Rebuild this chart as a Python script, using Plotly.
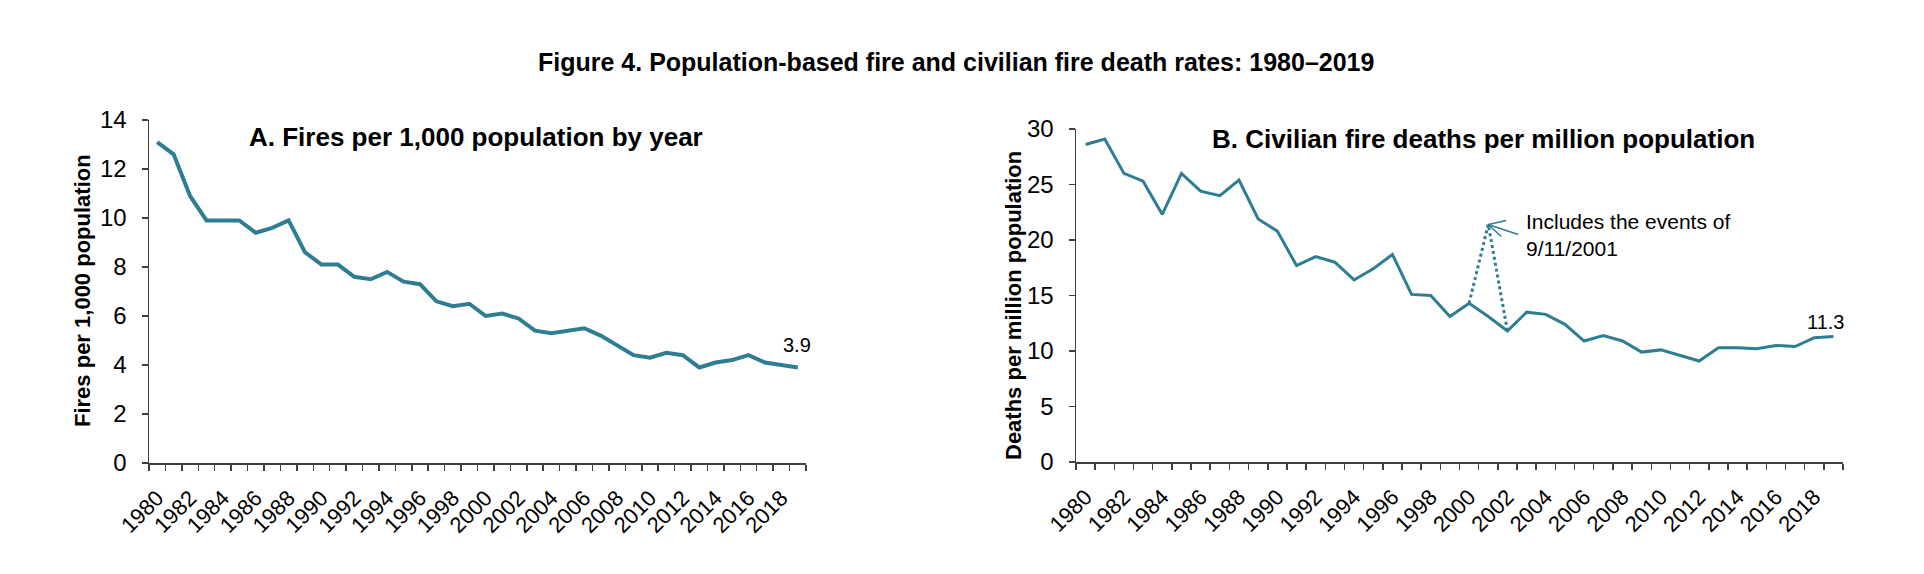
import plotly.graph_objects as go

years = list(range(1980, 2020))
fires_per_1000 = [13.1, 12.6, 10.9, 9.9, 9.9, 9.9, 9.4, 9.6, 9.9, 8.6,
                  8.1, 8.1, 7.6, 7.5, 7.8, 7.4, 7.3, 6.6, 6.4, 6.5,
                  6.0, 6.1, 5.9, 5.4, 5.3, 5.4, 5.5, 5.2, 4.8, 4.4,
                  4.3, 4.5, 4.4, 3.9, 4.1, 4.2, 4.4, 4.1, 4.0, 3.9]
deaths_per_million = [28.6, 29.1, 26.0, 25.3, 22.3, 26.0, 24.4, 24.0, 25.4, 21.9,
                      20.8, 17.7, 18.5, 18.0, 16.4, 17.4, 18.7, 15.1, 15.0, 13.1,
                      14.3, 13.1, 11.8, 13.5, 13.3, 12.4, 10.9, 11.4, 10.9, 9.9,
                      10.1, 9.6, 9.1, 10.3, 10.3, 10.2, 10.5, 10.4, 11.2, 11.3]
sept11_years = [2000, 2001, 2002]
sept11_values = [14.3, 21.4, 11.8]
tick_years = list(range(1980, 2019, 2))

W, H = 1924, 574
FONT = "Liberation Sans, Arial, sans-serif"
LINE = "#2F7D93"
AXIS = "#404040"

def px_x(p):
    return p / W

def px_y(p):
    return 1 - p / H

fig = go.Figure()
fig.add_trace(go.Scatter(x=years, y=fires_per_1000, mode="lines",
                         line=dict(color=LINE, width=4), xaxis="x", yaxis="y",
                         showlegend=False))
fig.add_trace(go.Scatter(x=sept11_years, y=sept11_values, mode="lines",
                         line=dict(color=LINE, width=3, dash="dot"), xaxis="x2", yaxis="y2",
                         showlegend=False))
fig.add_trace(go.Scatter(x=years, y=deaths_per_million, mode="lines",
                         line=dict(color=LINE, width=3), xaxis="x2", yaxis="y2",
                         showlegend=False))

def xaxis_cfg(domain, anchor):
    return dict(domain=domain, anchor=anchor, range=[1979.5, 2019.5], automargin=False,
                tickmode="array", tickvals=tick_years, ticktext=[str(y) for y in tick_years],
                tickangle=-45, ticks="outside", ticklen=0, ticklabelstandoff=12,
                tickfont=dict(family=FONT, size=22, color="#000"),
                minor=dict(ticks="outside", tick0=1979.5, dtick=1, ticklen=6,
                           tickwidth=1.5, tickcolor=AXIS, showgrid=False),
                showline=True, linecolor=AXIS, linewidth=1.5,
                showgrid=False, zeroline=False, fixedrange=True)

def yaxis_cfg(domain, anchor, rng, dtick):
    return dict(domain=domain, anchor=anchor, range=rng, dtick=dtick, automargin=False,
                ticks="outside", ticklen=6, tickwidth=1.5, tickcolor=AXIS,
                ticklabelstandoff=10,
                tickfont=dict(family=FONT, size=24, color="#000"),
                showline=True, linecolor=AXIS, linewidth=1.5,
                showgrid=False, zeroline=False, fixedrange=True)

annotations = [
    dict(text="<b>Figure 4. Population-based fire and civilian fire death rates: 1980–2019</b>",
         x=px_x(956), y=px_y(62), xref="paper", yref="paper", showarrow=False,
         xanchor="center", yanchor="middle", font=dict(family=FONT, size=25, color="#000")),
    dict(text="<b>A. Fires per 1,000 population by year</b>",
         x=px_x(476), y=px_y(137), xref="paper", yref="paper", showarrow=False,
         xanchor="center", yanchor="middle", font=dict(family=FONT, size=26, color="#000")),
    dict(text="<b>B. Civilian fire deaths per million population</b>",
         x=px_x(1483), y=px_y(139), xref="paper", yref="paper", showarrow=False,
         xanchor="center", yanchor="middle", font=dict(family=FONT, size=26, color="#000")),
    dict(text="<b>Fires per 1,000 population</b>", textangle=-90,
         x=px_x(82), y=px_y(291), xref="paper", yref="paper", showarrow=False,
         xanchor="center", yanchor="middle", font=dict(family=FONT, size=22, color="#000")),
    dict(text="<b>Deaths per million population</b>", textangle=-90,
         x=px_x(1013), y=px_y(305), xref="paper", yref="paper", showarrow=False,
         xanchor="center", yanchor="middle", font=dict(family=FONT, size=22, color="#000")),
    dict(text=f"{fires_per_1000[-1]:.1f}", x=years[-1], y=fires_per_1000[-1],
         xref="x", yref="y", showarrow=False, yshift=22, xshift=-1,
         font=dict(family=FONT, size=20, color="#000")),
    dict(text=f"{deaths_per_million[-1]:.1f}", x=years[-1], y=deaths_per_million[-1],
         xref="x2", yref="y2", showarrow=False, yshift=15, xshift=-8,
         font=dict(family=FONT, size=20, color="#000")),
    dict(text="Includes the events of<br>9/11/2001", x=sept11_years[1], y=sept11_values[1],
         xref="x2", yref="y2", showarrow=False, xanchor="left", yanchor="middle", align="left",
         xshift=36, yshift=-11, font=dict(family=FONT, size=21, color="#000")),
]

# open arrow pointing at the 2001 peak (pixel offsets from the anchor point)
arrow_segments = [(30, -10), (18, 4), (13, -12)]
shapes = []
for dx, dy in arrow_segments:
    shapes.append(dict(type="line", xref="x2", yref="y2",
                       xsizemode="pixel", ysizemode="pixel",
                       xanchor=sept11_years[1], yanchor=sept11_values[1],
                       x0=0, y0=0, x1=dx, y1=dy,
                       line=dict(color=LINE, width=1.5)))

fig.update_layout(
    template="none",
    width=W, height=H,
    margin=dict(l=0, r=0, t=0, b=0, pad=0, autoexpand=False),
    paper_bgcolor="white", plot_bgcolor="white",
    xaxis=xaxis_cfg([px_x(149), px_x(806)], "y"),
    yaxis=yaxis_cfg([px_y(463), px_y(120)], "x", [0, 14], 2),
    xaxis2=xaxis_cfg([px_x(1076), px_x(1843)], "y2"),
    yaxis2=yaxis_cfg([px_y(462), px_y(129)], "x2", [0, 30], 5),
    annotations=annotations,
    shapes=shapes,
    font=dict(family=FONT),
    showlegend=False,
)

fig.write_html("out.html",
               config={"displayModeBar": False, "staticPlot": True},
               post_script="document.body.style.margin='0';document.body.style.overflow='hidden';")
